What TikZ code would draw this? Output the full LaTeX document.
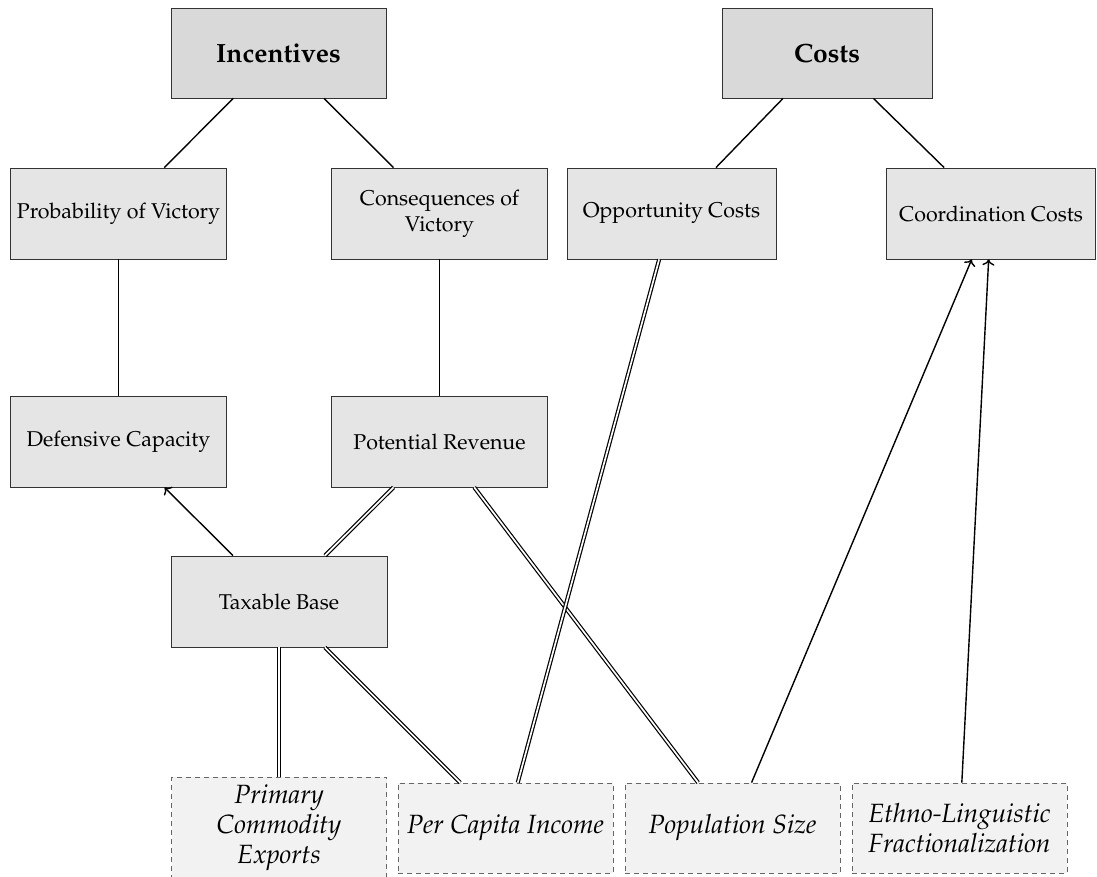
\documentclass[tikz,border=0pt]{standalone}
\usepackage[T1]{fontenc}
\usepackage{mathpazo}
\usetikzlibrary{arrows.meta}
\begin{document}
\begin{tikzpicture}[x=0.5pt, y=-0.5pt,
      head/.style={draw=black!80, fill=black!15, minimum width=107.5pt, minimum height=45pt, inner sep=2pt, font=\fontsize{13.2}{16}\selectfont\bfseries},
      factor/.style={draw=black!80, fill=black!10, minimum width=108pt, minimum height=45.5pt, inner sep=2pt, align=center, font=\fontsize{10.7}{13}\selectfont},
      observed/.style={draw=black!60, fill=black!5, dash pattern=on 2.5pt off 2pt, minimum width=107.5pt, minimum height=45pt, inner sep=2pt, align=center, font=\fontsize{13.2}{15}\selectfont\itshape},
      link/.style={black, line width=0.7pt},
      dlink/.style={black, line width=0.6pt, double=white, double distance=0.85pt},
      effect/.style={link, -{To[length=3pt, width=6pt]}}]
      \useasboundingbox (0,0) rectangle (1097,877);

      \node[head] (inc) at (278.5,53) {Incentives};
      \node[head, minimum width=105pt] (cost) at (827,53) {Costs};

      \node[factor] (prob) at (118.5,213.5) {Probability of Victory};
      \node[factor] (cons) at (439.5,213.5) {Consequences of\\Victory};
      \node[factor, minimum width=104.5pt] (opp) at (671.5,213.5) {Opportunity Costs};
      \node[factor, minimum width=104.5pt] (coord) at (991,213.5) {Coordination Costs};

      \node[factor] (def) at (118.5,441.5) {Defensive Capacity};
      \node[factor] (rev) at (439.5,441.5) {Potential Revenue};

      \node[factor] (tax) at (279,601.5) {Taxable Base};

      \node[observed, minimum height=51pt] (prim) at (279,828) {Primary\\Commodity\\Exports};
      \node[observed] (inc2) at (505.5,828) {Per Capita Income};
      \node[observed] (pop) at (732.5,828) {Population Size};
      \node[observed] (elf) at (959.5,828) {Ethno-Linguistic\\Fractionalization};

      \draw[link] (inc) -- (prob);
      \draw[link] (inc) -- (cons);
      \draw[link] (cost) -- (opp);
      \draw[link] (cost) -- (coord);
      \draw[link] (prob) -- (def);
      \draw[link] (cons) -- (rev);

      \draw[effect] (tax) -- (def);
      \draw[dlink] (tax) -- (rev);
      \draw[dlink] (rev) -- (pop);
      \draw[dlink] (tax) -- (prim);
      \draw[dlink] (tax) -- (inc2);
      \draw[dlink] (inc2) -- (opp);
      \draw[effect] (pop) -- (coord);
      \draw[effect] (elf) -- (coord);
    \end{tikzpicture}
\end{document}
